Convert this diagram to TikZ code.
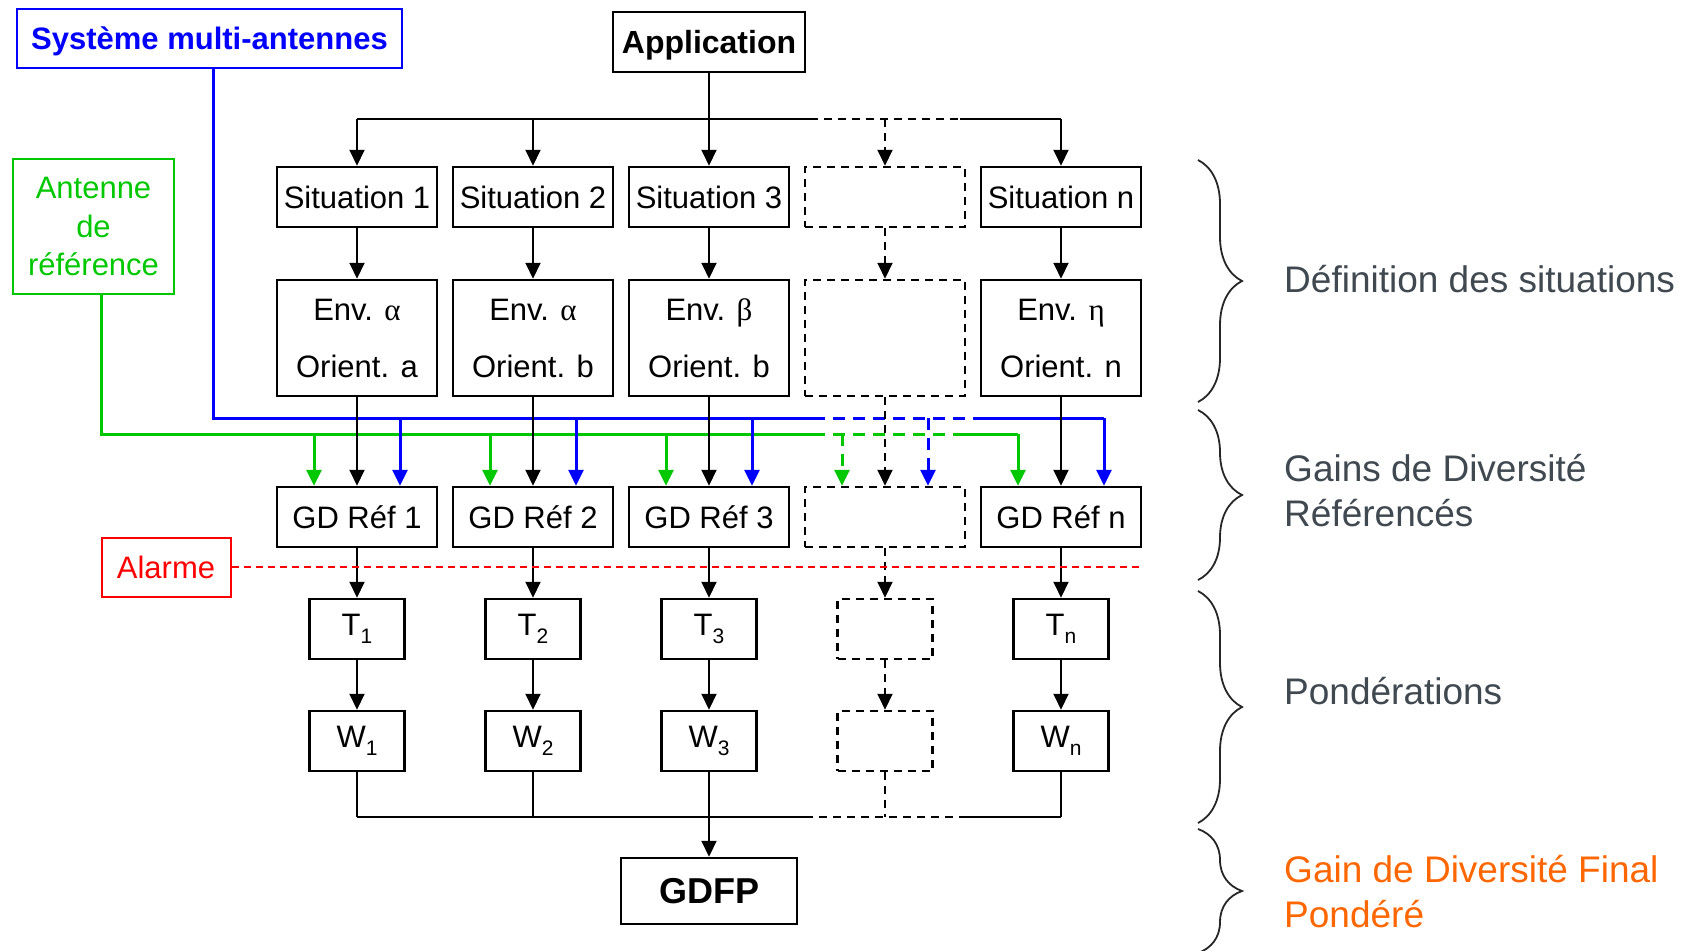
\documentclass[tikz,border=0pt]{standalone}
\usepackage{fontspec}
\setmainfont{Liberation Sans}
\newfontfamily\grk{Liberation Serif}
\usetikzlibrary{arrows.meta,calc,decorations.pathreplacing}
\definecolor{myg}{RGB}{0,200,0}
\definecolor{myb}{RGB}{0,0,255}
\definecolor{myr}{RGB}{255,0,0}
\definecolor{lbl}{RGB}{64,72,80}
\definecolor{org}{RGB}{255,102,0}
\newcommand{\sbs}[1]{\raisebox{-8pt}{\fontsize{21}{21}\selectfont #1}}
\begin{document}
\begin{tikzpicture}[x=1pt,y=-1pt,
  box/.style={draw, line width=2.5pt, minimum width=160pt, minimum height=60pt, inner sep=0pt, font=\fontsize{31}{37}\selectfont},
  dbox/.style={box, dash pattern=on 8pt off 6pt},
  envbox/.style={box, minimum height=116pt, align=center, font=\fontsize{31}{57}\selectfont},
  tbox/.style={box, minimum width=95pt},
  dtbox/.style={tbox, dash pattern=on 8pt off 6pt},
  conn/.style={line width=2pt},
  dconn/.style={conn, dash pattern=on 8pt off 6pt},
  arr/.style={conn, -{Triangle[length=16pt,width=15pt]}},
  darr/.style={arr, dash pattern=on 8pt off 6pt},
  bline/.style={line width=3pt, myb},
  gline/.style={line width=3pt, myg},
  barr/.style={bline, -{Triangle[length=16pt,width=15pt]}},
  garr/.style={gline, -{Triangle[length=16pt,width=15pt]}},
  dsh/.style={dash pattern=on 12pt off 8pt},
  brace/.style={decorate, decoration={brace, amplitude=44pt}, line width=1.8pt, draw=black!85},
  lab/.style={anchor=west, inner sep=0pt, align=left, text=lbl, font=\fontsize{37}{45}\selectfont}
]
\useasboundingbox (0,0) rectangle (1693,950);

% top boxes
\node[box, minimum width=192pt, text depth=0pt, font=\fontsize{32}{38}\selectfont\bfseries] (app) at (709,42) {Application};
\node[box, draw=myb, text=myb, line width=2pt, minimum width=385pt, minimum height=59pt, text depth=0pt, font=\fontsize{31}{37}\selectfont\bfseries] (sys) at (209.5,38.5) {Système multi-antennes};
\node[box, draw=myg, text=myg, line width=2pt, minimum width=161pt, minimum height=135pt, align=center, font=\fontsize{31}{38.5}\selectfont] (ant) at (93.5,226.5) {Antenne\\de\\référence};
\node[box, draw=myr, text=myr, line width=2pt, minimum width=129pt, minimum height=59pt] (alarm) at (166,567) {Alarme};

% situations
\node[box] (s1) at (357,197) {Situation 1};
\node[box] (s2) at (533,197) {Situation 2};
\node[box] (s3) at (709,197) {Situation 3};
\node[dbox] (s4) at (885,197) {};
\node[box] (s5) at (1061,197) {Situation n};

% environments
\node[envbox] (e1) at (357,338) {Env. {\grk α}\\Orient. a};
\node[envbox] (e2) at (533,338) {Env. {\grk α}\\Orient. b};
\node[envbox] (e3) at (709,338) {Env. {\grk β}\\Orient. b};
\node[envbox, dash pattern=on 8pt off 6pt] (e4) at (885,338) {};
\node[envbox] (e5) at (1061,338) {Env. {\grk η}\\Orient. n};

% GD
\node[box] (g1) at (357,517) {GD Réf 1};
\node[box] (g2) at (533,517) {GD Réf 2};
\node[box] (g3) at (709,517) {GD Réf 3};
\node[dbox] (g4) at (885,517) {};
\node[box] (g5) at (1061,517) {GD Réf n};

% T
\node[tbox] (t1) at (357,629) {T\sbs{1}};
\node[tbox] (t2) at (533,629) {T\sbs{2}};
\node[tbox] (t3) at (709,629) {T\sbs{3}};
\node[dtbox] (t4) at (885,629) {};
\node[tbox] (t5) at (1061,629) {T\sbs{n}};

% W
\node[tbox] (w1) at (357,741) {W\sbs{1}};
\node[tbox] (w2) at (533,741) {W\sbs{2}};
\node[tbox] (w3) at (709,741) {W\sbs{3}};
\node[dtbox] (w4) at (885,741) {};
\node[tbox] (w5) at (1061,741) {W\sbs{n}};

\node[box, minimum width=176pt, minimum height=66pt, font=\fontsize{36}{42}\selectfont\bfseries] (gdfp) at (709,891) {GDFP};

% application distribution
\coordinate (tl) at (357,119);
\coordinate (tm1) at (810,119);
\coordinate (tm2) at (960,119);
\coordinate (tr) at (1061,119);
\draw[conn] (app.south) -- (app.south |- tl);
\draw[conn] (tl) -- (tm1);
\draw[dconn] (tm1) -- (tm2);
\draw[conn] (tm2) -- (tr);
\foreach \n in {1,2,3,5} \draw[arr] (s\n.north |- tl) -- (s\n.north);
\draw[darr] (s4.north |- tl) -- (s4.north);

% vertical chains
\foreach \n in {1,2,3,5} {
  \draw[arr] (s\n) -- (e\n);
  \draw[arr] (g\n) -- (t\n);
  \draw[arr] (t\n) -- (w\n);
}
\draw[darr] (s4) -- (e4);
\draw[darr] (g4) -- (t4);
\draw[darr] (t4) -- (w4);

% colored lines
\coordinate (bc1) at (813,418);
\coordinate (bc2) at (975,418);
\coordinate (gc1) at (813,434);
\coordinate (gc2) at (957,434);
\foreach \n in {1,...,5} {
  \coordinate (bt\n) at ($(g\n.north)+(43,0)$);
  \coordinate (gt\n) at ($(g\n.north)+(-43,0)$);
}
\draw[bline] ([xshift=3.5pt]sys.south) |- (bc1);
\draw[bline, dsh] (bc1) -- (bc2);
\draw[bline] (bc2) -- (bc2 -| bt5);
\draw[gline] ([xshift=8pt]ant.south) |- (gc1);
\draw[gline, dsh] (gc1) -- (gc2);
\draw[gline] (gc2) -- (gc2 -| gt5);
\foreach \n in {1,2,3,5} {
  \draw[garr] (gt\n |- gc1) -- (gt\n);
  \draw[barr] (bt\n |- bc1) -- (bt\n);
}
\draw[garr, dsh] (gt4 |- gc1) -- (gt4);
\draw[barr, dsh] (bt4 |- bc1) -- (bt4);

% env -> GD (black, over colored lines)
\foreach \n in {1,2,3,5} \draw[arr] (e\n) -- (g\n);
\draw[darr] (e4) -- (g4);

% alarm
\draw[myr, line width=1.8pt, dash pattern=on 7pt off 5pt] (alarm.east) -- (1141,567);

% collector
\coordinate (bl) at (357,817);
\coordinate (bm1) at (805,817);
\coordinate (bm2) at (960,817);
\coordinate (br) at (1061,817);
\foreach \n in {1,2,5} \draw[conn] (w\n.south) -- (w\n.south |- bl);
\draw[dconn] (w4.south) -- (w4.south |- bl);
\draw[conn] (bl) -- (bm1);
\draw[dconn] (bm1) -- (bm2);
\draw[conn] (bm2) -- (br);
\draw[arr] (w3) -- (gdfp);

% braces and labels
\draw[brace] (1198,160) -- (1198,402);
\draw[brace] (1198,410) -- (1198,580);
\draw[brace] (1198,591) -- (1198,823);
\draw[brace] (1198,829) -- (1198,953);
\node[lab] (l1) at (1284,279) {Définition des situations};
\node[lab] (l2) at (1284,490.5) {Gains de Diversité\\Référencés};
\node[lab] (l3) at (1284,691) {Pondérations};
\node[lab, text=org] (l4) at (1284,891.5) {Gain de Diversité Final\\Pondéré};
\end{tikzpicture}
\end{document}
